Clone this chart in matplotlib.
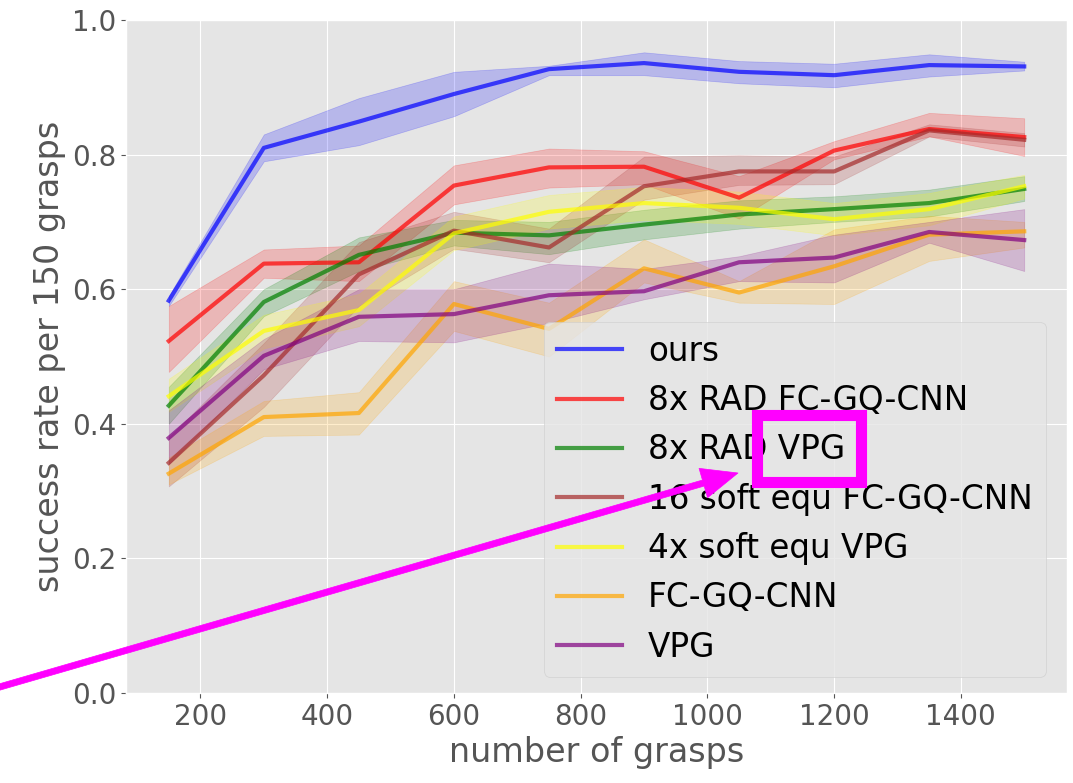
import matplotlib
matplotlib.use("Agg")
import matplotlib.pyplot as plt
from matplotlib.patches import Rectangle

# x positions (number of grasps)
grasps = [150, 300, 450, 600, 750, 900, 1050, 1200, 1350, 1500]

# mean success rate and shaded band (lower / upper) for each method
ours_mean = [0.583, 0.810, 0.849, 0.890, 0.927, 0.936, 0.923, 0.918, 0.933, 0.931]
ours_lo = [0.575, 0.790, 0.814, 0.857, 0.918, 0.918, 0.906, 0.900, 0.916, 0.925]
ours_hi = [0.590, 0.830, 0.884, 0.923, 0.932, 0.952, 0.939, 0.935, 0.949, 0.938]

rad_fc_mean = [0.523, 0.638, 0.640, 0.754, 0.781, 0.782, 0.736, 0.806, 0.838, 0.826]
rad_fc_lo = [0.477, 0.617, 0.612, 0.726, 0.751, 0.756, 0.705, 0.793, 0.827, 0.798]
rad_fc_hi = [0.575, 0.659, 0.665, 0.784, 0.809, 0.805, 0.768, 0.820, 0.862, 0.854]

rad_vpg_mean = [0.427, 0.581, 0.651, 0.684, 0.680, 0.696, 0.711, 0.719, 0.728, 0.749]
rad_vpg_lo = [0.400, 0.560, 0.627, 0.665, 0.652, 0.674, 0.690, 0.700, 0.708, 0.731]
rad_vpg_hi = [0.455, 0.600, 0.677, 0.703, 0.700, 0.718, 0.732, 0.738, 0.748, 0.768]

soft_fc_mean = [0.342, 0.472, 0.622, 0.687, 0.662, 0.753, 0.775, 0.775, 0.836, 0.822]
soft_fc_lo = [0.307, 0.425, 0.575, 0.660, 0.640, 0.733, 0.755, 0.756, 0.827, 0.812]
soft_fc_hi = [0.380, 0.520, 0.670, 0.715, 0.690, 0.797, 0.799, 0.797, 0.845, 0.832]

soft_vpg_mean = [0.441, 0.538, 0.569, 0.683, 0.715, 0.728, 0.721, 0.704, 0.719, 0.753]
soft_vpg_lo = [0.418, 0.512, 0.545, 0.658, 0.690, 0.703, 0.697, 0.680, 0.695, 0.735]
soft_vpg_hi = [0.467, 0.562, 0.593, 0.708, 0.740, 0.752, 0.745, 0.728, 0.743, 0.770]

fc_mean = [0.326, 0.410, 0.416, 0.578, 0.541, 0.631, 0.595, 0.634, 0.681, 0.686]
fc_lo = [0.310, 0.382, 0.384, 0.538, 0.500, 0.610, 0.580, 0.578, 0.642, 0.662]
fc_hi = [0.350, 0.434, 0.447, 0.612, 0.580, 0.674, 0.612, 0.689, 0.709, 0.700]

vpg_mean = [0.379, 0.501, 0.559, 0.563, 0.591, 0.597, 0.640, 0.647, 0.685, 0.673]
vpg_lo = [0.340, 0.481, 0.523, 0.521, 0.550, 0.585, 0.612, 0.610, 0.669, 0.627]
vpg_hi = [0.420, 0.526, 0.600, 0.600, 0.638, 0.630, 0.649, 0.681, 0.700, 0.719]

labels = ["ours", "8x RAD FC-GQ-CNN", "8x RAD VPG", "16 soft equ FC-GQ-CNN",
          "4x soft equ VPG", "FC-GQ-CNN", "VPG"]
colors = ["blue", "red", "green", "brown", "yellow", "orange", "purple"]

series = [
    (ours_mean, ours_lo, ours_hi),
    (rad_fc_mean, rad_fc_lo, rad_fc_hi),
    (rad_vpg_mean, rad_vpg_lo, rad_vpg_hi),
    (soft_fc_mean, soft_fc_lo, soft_fc_hi),
    (soft_vpg_mean, soft_vpg_lo, soft_vpg_hi),
    (fc_mean, fc_lo, fc_hi),
    (vpg_mean, vpg_lo, vpg_hi),
]

plt.style.use("ggplot")
plt.rcParams["font.size"] = 20

fig = plt.figure(figsize=(10.73, 7.83), dpi=100)
ax = fig.add_axes([126 / 1073, 1 - 693 / 783, 941 / 1073, 673 / 783])

for (mean, lo, hi), label, color in zip(series, labels, colors):
    ax.plot(grasps, mean, color=color, alpha=0.7, lw=3, label=label)
    ax.fill_between(grasps, lo, hi, color=color, alpha=0.2)

ax.set_ylim(0.0, 1.0)
ax.set_xlabel("number of grasps", fontsize=24)
ax.set_ylabel("success rate per 150 grasps", fontsize=24)
ax.tick_params(labelsize=20)
ax.legend(loc="lower right", fontsize=23.5, bbox_to_anchor=(0.995, 0.0))

# highlight box around "VPG" and the pointer arrow
fig.add_artist(Rectangle((757 / 1073, 1 - 482 / 783), 104 / 1073, 67 / 783,
                         transform=fig.transFigure, fill=False,
                         edgecolor="magenta", lw=8, zorder=20))
ax.annotate("", xy=(738 / 1073, 1 - 473 / 783), xytext=(-0.01, 1 - 690 / 783),
            xycoords="figure fraction", textcoords="figure fraction",
            annotation_clip=False, zorder=20,
            arrowprops=dict(color="magenta", width=4.5, headwidth=22, headlength=26))

fig.savefig("out.png", dpi=100)
